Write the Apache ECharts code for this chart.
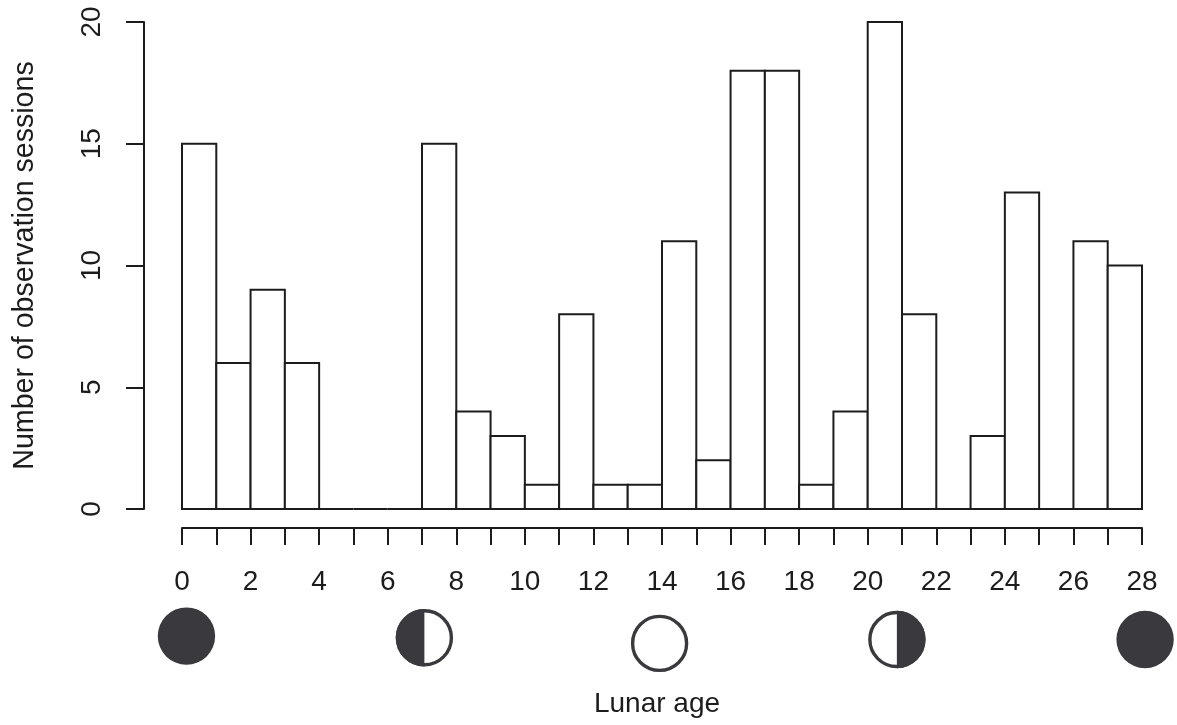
<!DOCTYPE html>
<html><head><meta charset="utf-8">
<style>html,body{margin:0;padding:0;background:#fff}#c{width:1177px;height:725px}</style>
<script src="https://cdn.jsdelivr.net/npm/echarts@6/dist/echarts.min.js"></script>
</head><body><div id="c"></div>
<script>
var binStart = [0,1,2,3,4,5,6,7,8,9,10,11,12,13,14,15,16,17,18,19,20,21,22,23,24,25,26,27];
var sessions = [15,6,9,6,0,0,0,15,4,3,1,8,1,1,11,2,18,18,1,4,20,8,0,3,13,0,11,10];
var moonAge = [0.13,7.07,13.93,20.85,28.09];
var moonLevel = [-5.22,-5.29,-5.52,-5.36,-5.36];
var moonPhase = ['new','first','full','last','new'];
var moonColor = '#3a393e', ink = '#1c1c1c';
var font = '"Liberation Sans", Arial, sans-serif';

function drawBar(params, api) {
  var a = api.coord([api.value(0), api.value(1)]);
  var b = api.coord([api.value(0) + 1, 0]);
  return {type:'rect', shape:{x:a[0], y:a[1], width:b[0]-a[0], height:b[1]-a[1]},
    style:{fill:'#fff', stroke:ink, lineWidth:2}};
}
function drawMoon(params, api) {
  var p = api.coord([api.value(0), api.value(1)]);
  var phase = moonPhase[params.dataIndex], r = 28.7, inner = r - 1.7;
  var kids = [];
  if (phase === 'new') {
    kids.push({type:'circle', shape:{cx:p[0], cy:p[1], r:r}, style:{fill:moonColor}});
  } else {
    kids.push({type:'circle', shape:{cx:p[0], cy:p[1], r:inner}, style:{fill:'#fff', stroke:moonColor, lineWidth:3.4}});
    if (phase !== 'full') {
      var start = phase === 'first' ? Math.PI/2 : -Math.PI/2;
      kids.push({type:'sector', shape:{cx:p[0], cy:p[1], r0:0, r:r, startAngle:start, endAngle:start+Math.PI}, style:{fill:moonColor}});
    }
  }
  return {type:'group', children:kids};
}

var chart = echarts.init(document.getElementById('c'), null, {renderer:'canvas'});
chart.setOption({
  animation:false,
  backgroundColor:'#fff',
  grid:{left:182, right:35, top:22, bottom:216, containLabel:false, outerBoundsMode:'none'},
  xAxis:{type:'value', min:0, max:28, interval:1, offset:19,
    name:'Lunar age', nameLocation:'middle', nameGap:162,
    nameTextStyle:{fontFamily:font, fontSize:28, color:ink, padding:[0,10,0,0]},
    splitLine:{show:false},
    axisLine:{show:true, onZero:false, lineStyle:{color:ink, width:2}},
    axisTick:{show:true, length:17, lineStyle:{color:ink, width:2}},
    axisLabel:{show:true, margin:40, fontFamily:font, fontSize:28, color:ink, hideOverlap:false,
      showMinLabel:true, showMaxLabel:true,
      formatter:function(v){return v % 2 === 0 ? String(v) : '';}}
  },
  yAxis:{type:'value', min:0, max:20, interval:5, offset:38,
    name:'Number of observation sessions', nameLocation:'middle', nameRotate:90, nameGap:104,
    nameTextStyle:{fontFamily:font, fontSize:28.6, color:ink},
    splitLine:{show:false},
    axisLine:{show:true, onZero:false, lineStyle:{color:ink, width:2}},
    axisTick:{show:true, length:18, lineStyle:{color:ink, width:2}},
    axisLabel:{show:true, rotate:90, margin:52, fontFamily:font, fontSize:28, color:ink, align:'center', verticalAlign:'middle',
      showMinLabel:true, showMaxLabel:true}
  },
  series:[
    {type:'custom', coordinateSystem:'cartesian2d', clip:false, silent:true,
      data:binStart.map(function(s,i){return [s, sessions[i]];}),
      encode:{x:0,y:1}, renderItem:drawBar},
    {type:'custom', coordinateSystem:'cartesian2d', clip:false, silent:true,
      data:moonAge.map(function(a,i){return [a, moonLevel[i]];}),
      encode:{x:0,y:1}, renderItem:drawMoon}
  ]
});
</script></body></html>
